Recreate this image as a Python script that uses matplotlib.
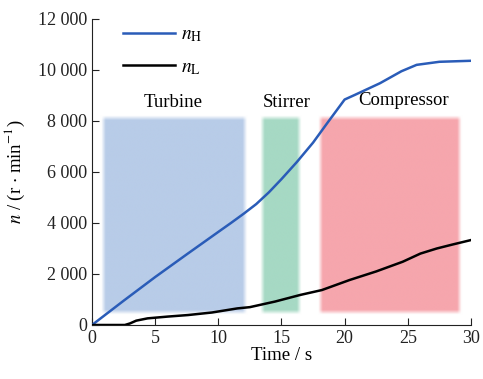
import numpy as np
import matplotlib.pyplot as plt
from matplotlib.colors import to_rgb
from matplotlib.ticker import FuncFormatter

# data
t_h = [0, 2.5, 5, 7.5, 10, 11, 12, 13, 14, 15, 16.2, 17.5, 18.6, 20.0, 20.8, 22.8, 24.5, 25.7, 27.5, 30]
n_h = [0, 950, 1880, 2770, 3650, 4000, 4360, 4740, 5200, 5720, 6380, 7150, 7900, 8840, 9020, 9480, 9950, 10200, 10320, 10360]
t_l = [0, 2.6, 3.0, 3.5, 4.4, 6, 7.6, 9.5, 11.5, 12.5, 14.5, 16.5, 18.2, 20.4, 22.5, 24.6, 26, 27.3, 28.5, 30]
n_l = [0, 0, 60, 170, 260, 330, 390, 490, 650, 700, 920, 1180, 1370, 1765, 2100, 2480, 2800, 3000, 3150, 3330]

regions = ["Turbine", "Stirrer", "Compressor"]
reg_t0 = [0.9, 13.5, 18.1]
reg_t1 = [12.1, 16.4, 29.1]
reg_n0 = 500
reg_n1 = 8100
reg_colors = ["#b8cce8", "#a6d9c4", "#f6a6ad"]

plt.rcParams['font.family'] = ['Liberation Serif', 'DejaVu Serif']
plt.rcParams['mathtext.fontset'] = 'stix'

fig = plt.figure(figsize=(4.83, 3.79), dpi=100)
ax = fig.add_axes([0.1905, 0.1425, 0.7845, 0.8075])
ax.set_xlim(0, 30)
ax.set_ylim(0, 12000)

# soft-edged colour blocks
xs = np.linspace(0, 30, 900)
ys = np.linspace(0, 12000, 700)
X, Y = np.meshgrid(xs, ys)
img = np.ones((len(ys), len(xs), 3))
bx, by = 0.35, 180
for t0, t1, c in zip(reg_t0, reg_t1, reg_colors):
    ax_ = np.clip((X - t0) / bx + 0.5, 0, 1) * np.clip((t1 - X) / bx + 0.5, 0, 1)
    ay_ = np.clip((Y - reg_n0) / by + 0.5, 0, 1) * np.clip((reg_n1 - Y) / by + 0.5, 0, 1)
    a = (ax_ * ay_)[..., None]
    img = img * (1 - a) + np.array(to_rgb(c)) * a
ax.imshow(img, extent=[0, 30, 0, 12000], origin='lower', aspect='auto', zorder=0)

ax.plot(t_h, n_h, color='#2a5cb8', lw=1.8, label=r'$n_{\mathrm{H}}$', zorder=3)
ax.plot(t_l, n_l, color='black', lw=1.8, label=r'$n_{\mathrm{L}}$', zorder=3)

label_x = [6.4, 15.4, 24.7]
label_y = [8400, 8400, 8450]
for name, x, y in zip(regions, label_x, label_y):
    ax.text(x, y, name, ha='center', va='bottom', fontsize=13.5)

ax.spines['top'].set_visible(False)
ax.spines['right'].set_visible(False)
ax.spines['left'].set_color('#222222')
ax.spines['bottom'].set_color('#222222')
ax.tick_params(direction='in', length=5, labelsize=13, colors='#222222')
ax.set_xticks([0, 5, 10, 15, 20, 25, 30])
ax.set_yticks(range(0, 12001, 2000))
ax.yaxis.set_major_formatter(FuncFormatter(lambda v, p: f"{int(v):,}".replace(",", " ")))
ax.set_xlabel('Time / s', fontsize=13.5, labelpad=0)
ax.set_ylabel(r'$n$ / (r $\cdot$ min$^{-1}$)', fontsize=13.5, labelpad=8)

leg = ax.legend(loc='upper left', bbox_to_anchor=(0.035, 1.035), frameon=False,
                fontsize=14, handlelength=2.7, labelspacing=0.75, handletextpad=0.3)

fig.savefig('out.png', dpi=100)
